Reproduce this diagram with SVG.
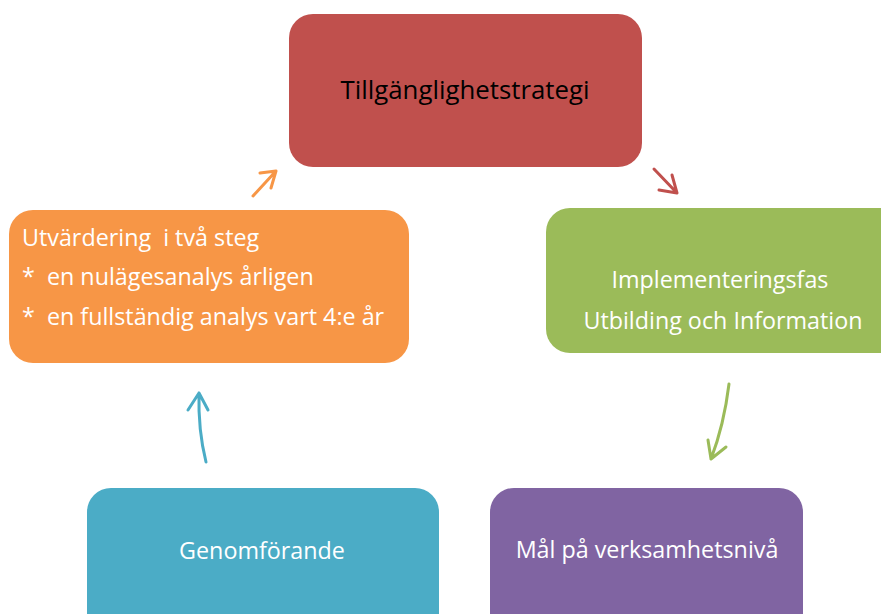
<svg xmlns="http://www.w3.org/2000/svg" width="881" height="614" viewBox="0 0 881 614">
<style>
.t{font-family:"Open Sans","Noto Sans","Liberation Sans",sans-serif;font-size:23.3px;fill:#fff}
.c{text-anchor:middle}
.a{fill:none;stroke-width:3;stroke-linecap:round;stroke-linejoin:round}
</style>
<rect width="881" height="614" fill="#fff"/>
<g id="strategi">
<rect x="289" y="14" width="353" height="153" rx="24" fill="#C0504D"/>
<text class="t c" x="465" y="99" style="fill:#000;font-size:25.8px">Tillgänglighetstrategi</text>
</g>
<g id="implementering">
<rect x="546" y="208" width="360" height="145" rx="24" fill="#9BBB59"/>
<text class="t c" x="720" y="288">Implementeringsfas</text>
<text class="t c" x="723" y="329">Utbilding och Information</text>
</g>
<g id="mal">
<rect x="490" y="488" width="313" height="150" rx="24" fill="#8064A2"/>
<text class="t c" x="647" y="558">Mål på verksamhetsnivå</text>
</g>
<g id="genomforande">
<rect x="87" y="488" width="352" height="150" rx="24" fill="#4BACC6"/>
<text class="t c" x="262" y="559">Genomförande</text>
</g>
<g id="utvardering">
<rect x="9" y="210" width="400" height="153" rx="24" fill="#F79646"/>
<text class="t" x="22" y="246" xml:space="preserve">Utvärdering  i två steg</text>
<text class="t" x="22" y="285" xml:space="preserve">*  en nulägesanalys årligen</text>
<text class="t" x="22" y="325" xml:space="preserve">*  en fullständig analys vart 4:e år</text>
</g>
<g id="connectors">
<path class="a" stroke="#C0504D" d="M654 169 L677 193 M672 175 L677 193 L659 190"/>
<path class="a" stroke="#9BBB59" d="M729 384 Q724 425 711 459 M708 440 L711 459 L726 447"/>
<path class="a" stroke="#4BACC6" d="M206 462 Q198 430 199 393 M188 410 L199 393 L208 410"/>
<path class="a" stroke="#F79646" d="M253 196 L276 171 M260 173 L276 171 L271 188"/>
</g>
</svg>
